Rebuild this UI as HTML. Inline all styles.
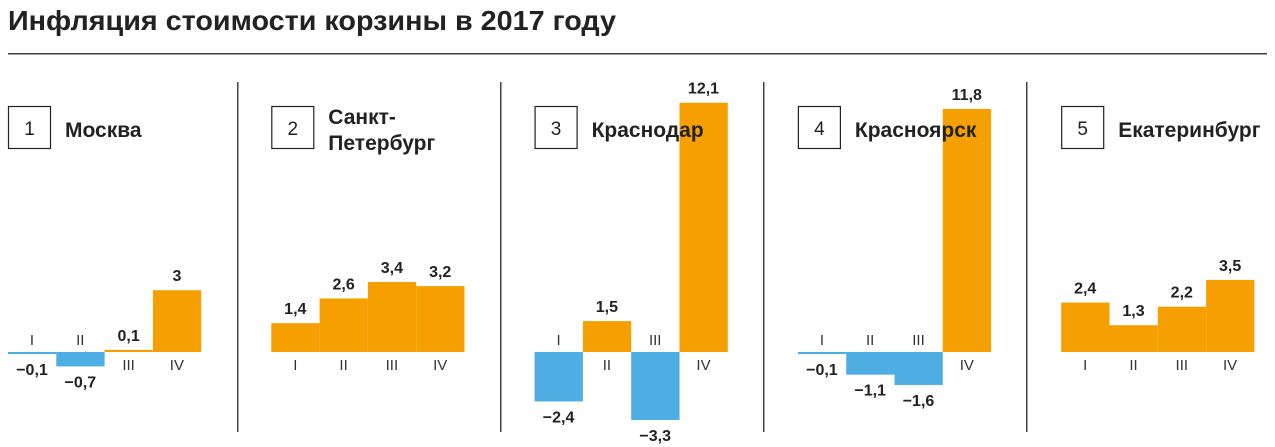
<!DOCTYPE html><html><head><meta charset="utf-8"><style>body{margin:0;background:#fff}svg{display:block}</style></head><body>
<svg id="s" width="1275" height="447" xmlns="http://www.w3.org/2000/svg" font-family="Liberation Sans, sans-serif"></svg>
<script>
const s=document.getElementById('s');let h='',t='';
h+='<text x="8" y="30" font-size="28" font-weight="bold" fill="#222" textLength="608" lengthAdjust="spacingAndGlyphs">Инфляция стоимости корзины в 2017 году</text>';
h+='<rect x="8" y="53" width="1259" height="1.5" fill="#444"/>';
[237,500,763,1026].forEach(x=>h+=`<rect x="${x}" y="82" width="1.5" height="350" fill="#444"/>`);
const P=[["Москва",[-0.1,-0.7,0.1,3]],[["Санкт-","Петербург"],[1.4,2.6,3.4,3.2]],["Краснодар",[-2.4,1.5,-3.3,12.1]],["Красноярск",[-0.1,-1.1,-1.6,11.8]],["Екатеринбург",[2.4,1.3,2.2,3.5]]];
const R=["I","II","III","IV"],B=352,K=20.6;
P.forEach((p,i)=>{const x0=8+i*263.3;
t+=`<rect x="${x0+0.5}" y="106.5" width="42" height="42" fill="none" stroke="#222" stroke-width="1.2"/><text x="${x0+21.5}" y="135" font-size="19" text-anchor="middle" fill="#222">${i+1}</text>`;
if(Array.isArray(p[0]))t+=`<text x="${x0+57}" y="124" font-size="21" font-weight="bold" fill="#222">${p[0][0]}</text><text x="${x0+57}" y="150" font-size="21" font-weight="bold" fill="#222">${p[0][1]}</text>`;
else t+=`<text x="${x0+57}" y="137" font-size="21" font-weight="bold" fill="#222">${p[0]}</text>`;
p[1].forEach((v,j)=>{const x=x0+j*48.3,cx=x+24,hh=Math.max(Math.abs(v)*K,2),lab=String(v).replace('.',',').replace('-','−');
if(v>=0){h+=`<rect x="${x}" y="${B-hh}" width="48.3" height="${hh}" fill="#f5a000"/>`;
t+=`<text x="${cx}" y="${B-hh-9}" font-size="16" font-weight="bold" text-anchor="middle" fill="#222">${lab}</text><text x="${cx}" y="${B+18}" font-size="15" text-anchor="middle" fill="#333">${R[j]}</text>`;}
else{h+=`<rect x="${x}" y="${B}" width="48.3" height="${hh}" fill="#4eaee3"/>`;
t+=`<text x="${cx}" y="${B+hh+21}" font-size="16" font-weight="bold" text-anchor="middle" fill="#222">${lab}</text><text x="${cx}" y="${B-7}" font-size="15" text-anchor="middle" fill="#333">${R[j]}</text>`;}
});});
s.innerHTML=h+t;
</script></body></html>
